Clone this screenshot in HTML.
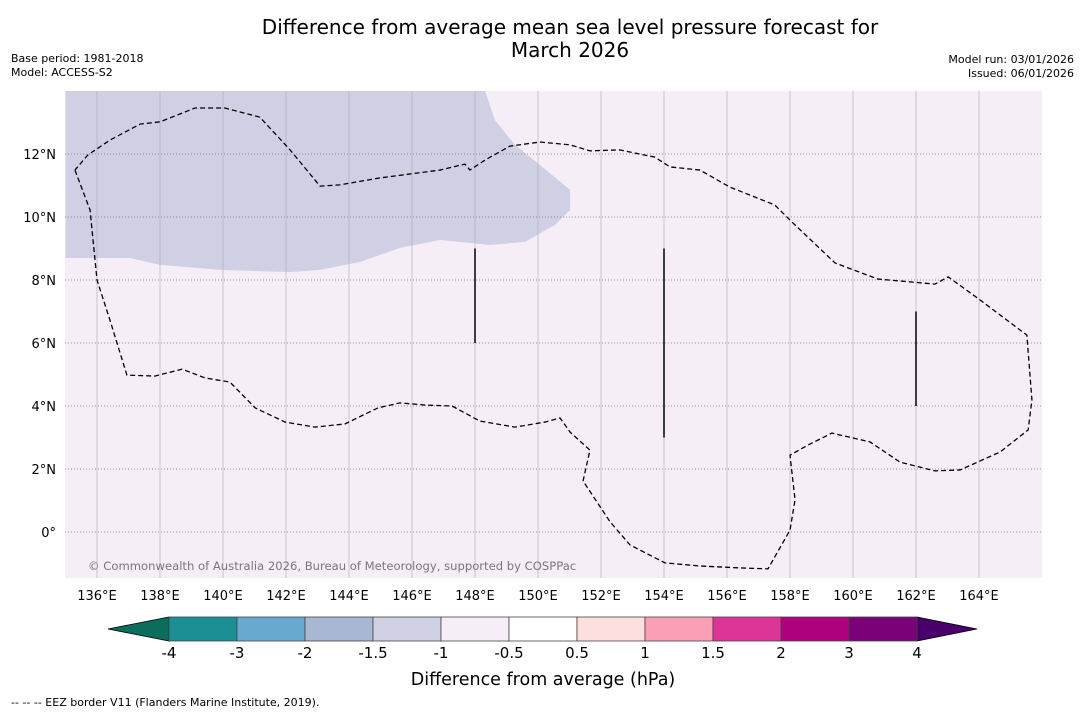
<!DOCTYPE html>
<html><head><meta charset="utf-8"><style>
body{margin:0;background:#fff;font-family:"Liberation Sans","DejaVu Sans",sans-serif;}
svg text{font-family:"DejaVu Sans","Liberation Sans",sans-serif;}
</style></head><body>
<svg id="c" width="1085" height="713" xmlns="http://www.w3.org/2000/svg">
<text x="570" y="34" font-size="20" text-anchor="middle">Difference from average mean sea level pressure forecast for</text>
<text x="570" y="57" font-size="20" text-anchor="middle">March 2026</text>
<text x="11" y="62" font-size="11">Base period: 1981-2018</text>
<text x="11" y="76" font-size="11">Model: ACCESS-S2</text>
<text x="1074" y="63" font-size="11" text-anchor="end">Model run: 03/01/2026</text>
<text x="1074" y="77" font-size="11" text-anchor="end">Issued: 06/01/2026</text>
<g id="map"></g>
<g id="cbar"></g>
<text x="543" y="685" font-size="17.5" text-anchor="middle">Difference from average (hPa)</text>
<text x="11" y="706" font-size="11">--  --  -- EEZ border V11 (Flanders Marine Institute, 2019).</text>
</svg>
<script>
const lonTicks=[136,138,140,142,144,146,148,150,152,154,156,158,160,162,164];
const latTicks=[0,2,4,6,8,10,12];
const eezLon=[135.30,135.78,136.0,136.41,136.95,137.84,138.70,139.43,140.22,141.02,141.97,142.92,143.87,144.92,145.62,146.41,147.27,148.16,149.27,150.22,150.70,151.02,151.65,151.43,152.29,152.92,154.03,155.14,156.41,157.30,158.0,158.16,158.0,158.57,159.33,160.54,161.49,162.60,163.40,164.67,165.56,165.68,165.52,164.03,163.02,162.60,160.79,159.43,158.0,157.52,156.09,155.14,154.19,153.71,152.60,151.65,151.02,150.06,149.11,148.32,147.84,147.68,146.89,144.98,143.71,143.08,142.13,141.17,140.06,139.11,138.0,137.37,136.41,135.71,135.30];
const eezLat=[11.49,10.22,8.0,6.73,4.98,4.95,5.17,4.89,4.76,3.94,3.49,3.33,3.43,3.94,4.10,4.03,4.0,3.52,3.33,3.49,3.62,3.17,2.60,1.62,0.32,-0.41,-0.98,-1.08,-1.14,-1.17,0.06,1.02,2.44,2.76,3.14,2.86,2.22,1.94,1.97,2.54,3.24,4.19,6.25,7.37,8.10,7.87,8.03,8.54,9.90,10.38,10.95,11.49,11.59,11.90,12.13,12.10,12.29,12.38,12.25,11.81,11.49,11.68,11.49,11.24,11.02,10.98,12.13,13.17,13.46,13.46,13.02,12.95,12.44,11.97,11.49];
const lowLon=[135,148.32,148.63,149.27,150.06,151.02,151.02,150.54,149.59,148.48,146.89,145.62,144.35,143.08,142.13,139.90,138.0,137.05,135];
const lowLat=[14,14,13.08,12.29,11.65,10.86,10.22,9.75,9.21,9.11,9.27,9.02,8.57,8.32,8.25,8.32,8.48,8.70,8.70];
const segLon=[148,154,162];
const segLat0=[6,3,4];
const segLat1=[9,9,7];
const cbLevels=["-4","-3","-2","-1.5","-1","-0.5","0.5","1","1.5","2","3","4"];
const cbColors=["#1c8f95","#67a9cf","#a9b7d2","#d0d0e5","#f5eef7","#ffffff","#fde0dd","#fa9fb5","#dd3497","#ae017e","#7a0177"];
const NS="http://www.w3.org/2000/svg";
const X0=65.5,Y0=91,PX=31.5;
const x=lon=>X0+(lon-135)*PX, y=lat=>Y0+(14-lat)*PX;
function mk(tag,at,p){const e=document.createElementNS(NS,tag);for(const k in at)e.setAttribute(k,at[k]);p.appendChild(e);return e;}
const map=document.getElementById('map');
let bg=mk('rect',{x:65,y:91,width:977,height:487,fill:'#f5eef7'},map);


let low=mk('polygon',{points:lowLon.map((l,i)=>x(l)+','+y(lowLat[i])).join(' '),fill:'#d0d0e5'},map);


lonTicks.forEach(l=>{let g=mk('line',{x1:x(l),x2:x(l),y1:91,y2:578,stroke:'#aaa','stroke-width':0.6},map);


let t=mk('text',{x:x(l),y:600,'font-size':13,'text-anchor':'middle'},map);t.textContent=l+'°E';

});
latTicks.forEach(l=>{let g=mk('line',{x1:65,x2:1042,y1:y(l),y2:y(l),stroke:'#777','stroke-width':0.8,'stroke-dasharray':'1,2'},map);


let t=mk('text',{x:56,y:y(l)+5,'font-size':13,'text-anchor':'end'},map);t.textContent=(l===0?'0°':l+'°N');

});
let eez=mk('polyline',{points:eezLon.map((l,i)=>x(l)+','+y(eezLat[i])).join(' '),fill:'none',stroke:'#000','stroke-width':1.3,'stroke-dasharray':'5,3'},map);


segLon.forEach((l,i)=>{let s=mk('line',{x1:x(l),x2:x(l),y1:y(segLat0[i]),y2:y(segLat1[i]),stroke:'#000','stroke-width':1.5},map);

});
let cr=mk('text',{x:88,y:570,'font-size':11.6,fill:'#777'},map);cr.textContent='© Commonwealth of Australia 2026, Bureau of Meteorology, supported by COSPPac';


const cb=document.getElementById('cbar');
const CX0=169,CW=68,CY=617,CH=24;
let lt=mk('polygon',{points:`108,629 ${CX0},${CY} ${CX0},${CY+CH}`,fill:'#0b6e5c',stroke:'#000','stroke-width':0.8},cb);


const xe=CX0+cbColors.length*CW;
let rt=mk('polygon',{points:`${xe},${CY} ${xe+60},629 ${xe},${CY+CH}`,fill:'#49006a',stroke:'#000','stroke-width':0.8},cb);


cbColors.forEach((c,i)=>{let r=mk('rect',{x:CX0+i*CW,y:CY,width:CW,height:CH,fill:c,stroke:'#444','stroke-width':0.8},cb);

});
cbLevels.forEach((v,i)=>{let t=mk('text',{x:CX0+i*CW,y:658,'font-size':15,'text-anchor':'middle'},cb);t.textContent=v;

});
</script>
</body></html>
